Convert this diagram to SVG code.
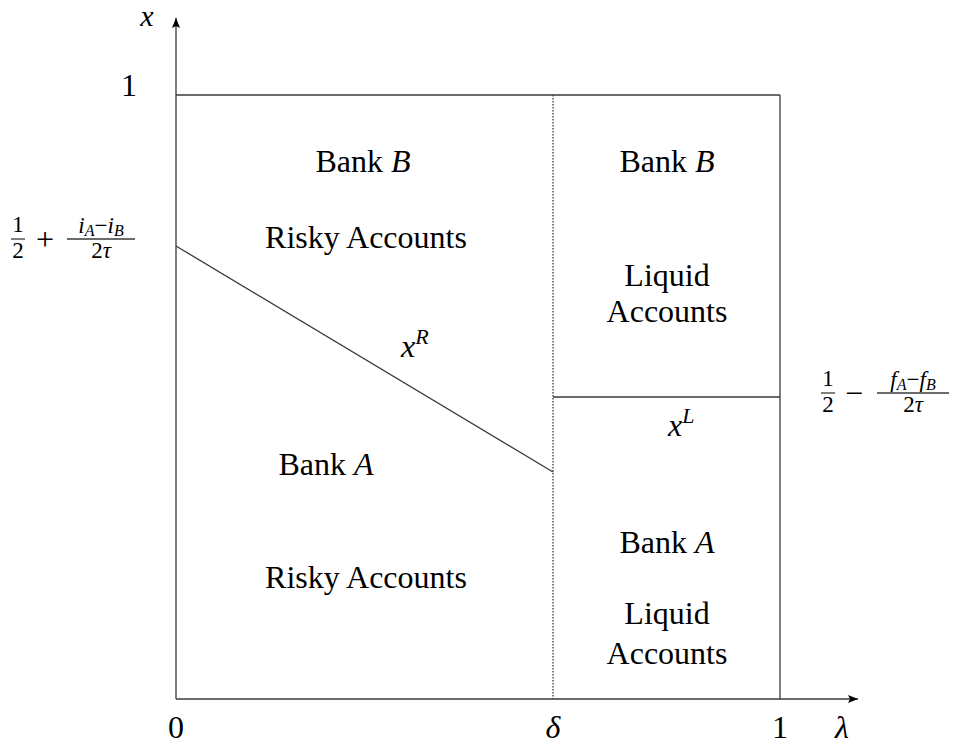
<svg xmlns="http://www.w3.org/2000/svg" width="953" height="748" viewBox="0 0 953 748">
<style>
text{font-family:"Liberation Serif","Times New Roman",serif;fill:#000;}
.t{font-size:32px;text-anchor:middle;}
.it{font-style:italic;}
.ln{stroke:#3a3a3a;stroke-width:1.3;fill:none;}
.dot{stroke:#3a3a3a;stroke-width:1.3;stroke-dasharray:1.5 1.5;fill:none;}
.fr{font-size:23px;text-anchor:middle;}
.sub{font-size:16px;font-style:italic;}
</style>
<defs>
<marker id="arr" viewBox="0 0 10 8" refX="10" refY="4" markerWidth="10" markerHeight="8" markerUnits="userSpaceOnUse" orient="auto">
<path d="M0,0 L10,4 L0,8 L2,4 Z" fill="#000"/>
</marker>
</defs>
<rect width="953" height="748" fill="#fff"/>
<g id="connectors">
<line class="ln" x1="176" y1="699" x2="176" y2="18" marker-end="url(#arr)"/>
<line class="ln" x1="176" y1="699" x2="858" y2="699" marker-end="url(#arr)"/>
<line class="ln" x1="176" y1="95" x2="780" y2="95"/>
<line class="ln" x1="780" y1="95" x2="780" y2="699"/>
<line class="dot" x1="553" y1="95" x2="553" y2="699"/>
<line class="ln" x1="553" y1="397" x2="780" y2="397"/>
<line class="ln" x1="176" y1="246" x2="553" y2="472"/>
</g>
<g id="axis-labels">
<text class="it" x="147" y="26" font-size="30" text-anchor="middle">x</text>
<text class="t" x="129" y="96">1</text>
<text class="t" x="176" y="738">0</text>
<text class="t it" x="553" y="738">δ</text>
<text class="t" x="780" y="738">1</text>
<text class="t it" x="842" y="738">λ</text>
</g>
<g id="label-xR">
<text x="401" y="357" font-size="32" class="it">x<tspan font-size="22" dy="-13">R</tspan></text>
</g>
<g id="label-xL">
<text x="668" y="436" font-size="32" class="it">x<tspan font-size="22" dy="-13">L</tspan></text>
</g>
<g id="label-left-fraction">
<text class="fr" x="18" y="232">1</text>
<line class="ln" x1="11" y1="239" x2="25" y2="239"/>
<text class="fr" x="18" y="258">2</text>
<text class="t" x="45" y="250">+</text>
<text class="fr" x="101" y="233"><tspan class="it">i</tspan><tspan class="sub" dy="3">A</tspan><tspan dy="-3">−</tspan><tspan class="it">i</tspan><tspan class="sub" dy="3">B</tspan></text>
<line class="ln" x1="67" y1="239" x2="135" y2="239"/>
<text class="fr" x="101" y="258">2<tspan class="it">τ</tspan></text>
</g>
<g id="label-right-fraction">
<text class="fr" x="828" y="386">1</text>
<line class="ln" x1="821" y1="393" x2="835" y2="393"/>
<text class="fr" x="828" y="412">2</text>
<text class="t" x="854" y="404">−</text>
<text class="fr" x="913" y="387"><tspan class="it">f</tspan><tspan class="sub" dy="3">A</tspan><tspan dy="-3">−</tspan><tspan class="it">f</tspan><tspan class="sub" dy="3">B</tspan></text>
<line class="ln" x1="877" y1="393" x2="949" y2="393"/>
<text class="fr" x="913" y="412">2<tspan class="it">τ</tspan></text>
</g>
<g id="region-bankB-risky">
<text class="t" x="363" y="172">Bank <tspan class="it">B</tspan></text>
<text class="t" x="366" y="248">Risky Accounts</text>
</g>
<g id="region-bankB-liquid">
<text class="t" x="667" y="172">Bank <tspan class="it">B</tspan></text>
<text class="t" x="667" y="286">Liquid</text>
<text class="t" x="667" y="322">Accounts</text>
</g>
<g id="region-bankA-risky">
<text class="t" x="326" y="475">Bank <tspan class="it">A</tspan></text>
<text class="t" x="366" y="588">Risky Accounts</text>
</g>
<g id="region-bankA-liquid">
<text class="t" x="667" y="553">Bank <tspan class="it">A</tspan></text>
<text class="t" x="667" y="624">Liquid</text>
<text class="t" x="667" y="664">Accounts</text>
</g>
</svg>
